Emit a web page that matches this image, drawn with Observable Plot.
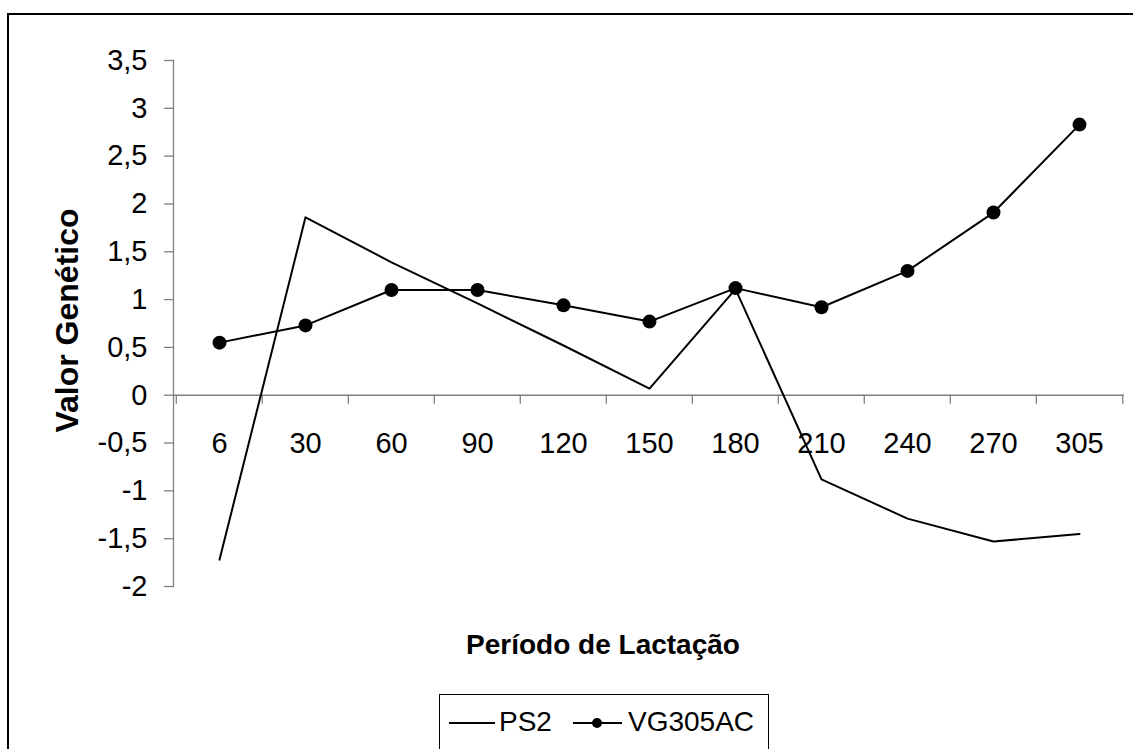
<!DOCTYPE html>
<html>
<head>
<meta charset="utf-8">
<script src="https://cdn.jsdelivr.net/npm/d3@7"></script>
<script src="https://cdn.jsdelivr.net/npm/@observablehq/plot@0.6"></script>
<style>
  html, body { margin: 0; padding: 0; background: #fff; }
  #wrap { position: relative; width: 1133px; height: 749px; overflow: hidden; background: #fff;
          font-family: "Liberation Sans", Arial, sans-serif; color: #000; }
  #wrap svg.chart { position: absolute; left: 0; top: 0; }
  #border { position: absolute; left: 7px; top: 13px; width: 1300px; height: 900px;
            border: 2px solid #000; box-sizing: border-box; pointer-events: none; }
  #legendBox { position: absolute; left: 439px; top: 694px; width: 330px; height: 70px;
               border: 1px solid #000; box-sizing: border-box; }
  .lg { position: absolute; font-size: 28px; line-height: 28px; white-space: nowrap; }
  #legendSw { position: absolute; left: 0; top: 0; }
</style>
</head>
<body>
<div id="wrap"></div>
<script>
// ---- data ----
const periods = ["6", "30", "60", "90", "120", "150", "180", "210", "240", "270", "305"];
const ps2     = [-1.72, 1.86, 1.39, 0.96, 0.52, 0.07, 1.11, -0.88, -1.29, -1.53, -1.45];
const vg305ac = [0.55, 0.73, 1.10, 1.10, 0.94, 0.77, 1.12, 0.92, 1.30, 1.91, 2.83];
const yTicks  = [-2, -1.5, -1, -0.5, 0, 0.5, 1, 1.5, 2, 2.5, 3, 3.5];
const seriesNames = ["PS2", "VG305AC"];
const xTitle = "Período de Lactação";
const yTitle = "Valor Genético";

const ps2Data = periods.map((p, i) => ({period: p, value: ps2[i]}));
const vgData  = periods.map((p, i) => ({period: p, value: vg305ac[i]}));

const W = 1133, H = 749;
const mL = 173, mR = 9, mT = 60, mB = 163;
const bw = (W - mL - mR) / periods.length;
const grey = "#808080";
const fmt = d => String(d).replace(".", ",");

const chart = Plot.plot({
  width: W, height: H,
  marginLeft: mL, marginRight: mR, marginTop: mT, marginBottom: mB,
  style: {background: "transparent", overflow: "visible", fontFamily: "'Liberation Sans', Arial, sans-serif", color: "#000"},
  x: {type: "band", domain: periods, padding: 0, axis: null},
  y: {domain: [-2, 3.5], axis: null},
  marks: [
    Plot.frame({anchor: "left", stroke: grey, strokeWidth: 1.3}),
    Plot.axisY({ticks: yTicks, tickFormat: fmt, tickSize: 9, tickPadding: 17, fontSize: 29,
                stroke: grey, strokeWidth: 1.3, fill: "#000", label: null}),
    Plot.ruleY([0], {stroke: grey, strokeWidth: 1.3}),
    Plot.ruleX(periods, {x: d => d, y1: 0, y2: 0, insetBottom: -9, dx: -bw / 2, stroke: grey, strokeWidth: 1.3}),
    Plot.ruleX(periods.slice(-1), {x: d => d, y1: 0, y2: 0, insetBottom: -9, dx: bw / 2, stroke: grey, strokeWidth: 1.3}),
    Plot.text(periods, {x: d => d, y: 0, text: d => d, dy: 48, fontSize: 29, lineAnchor: "middle", fill: "#000"}),
    Plot.line(ps2Data, {x: "period", y: "value", stroke: "#000", strokeWidth: 2}),
    Plot.line(vgData, {x: "period", y: "value", stroke: "#000", strokeWidth: 2}),
    Plot.dot(vgData, {x: "period", y: "value", r: 7, fill: "#000", stroke: "none"}),
    Plot.text([yTitle], {frameAnchor: "left", dx: -106, dy: -3, rotate: -90, fontSize: 32, fontWeight: "bold",
                         textAnchor: "middle", lineAnchor: "middle", fill: "#000"}),
    Plot.text([xTitle], {frameAnchor: "bottom", dx: -46, dy: 59, fontSize: 28, fontWeight: "bold", lineAnchor: "middle", fill: "#000"})
  ]
});
chart.classList.add("chart");
const wrap = document.getElementById("wrap");
wrap.appendChild(chart);

// legend
const box = document.createElement("div");
box.id = "legendBox";
wrap.appendChild(box);
const sw = d3.select(wrap).append("svg").attr("id", "legendSw").attr("width", W).attr("height", H);
sw.append("line").attr("x1", 449).attr("x2", 495).attr("y1", 723).attr("y2", 723).attr("stroke", "#000").attr("stroke-width", 2);
sw.append("line").attr("x1", 573).attr("x2", 622).attr("y1", 723).attr("y2", 723).attr("stroke", "#000").attr("stroke-width", 2);
sw.append("circle").attr("cx", 597).attr("cy", 723).attr("r", 5).attr("fill", "#000");
const lpos = [499, 628];
seriesNames.forEach((n, i) => {
  const s = document.createElement("span");
  s.className = "lg";
  s.textContent = n;
  s.style.left = lpos[i] + "px";
  s.style.top = "708px";
  wrap.appendChild(s);
});
const border = document.createElement("div");
border.id = "border";
wrap.appendChild(border);
</script>
</body>
</html>
